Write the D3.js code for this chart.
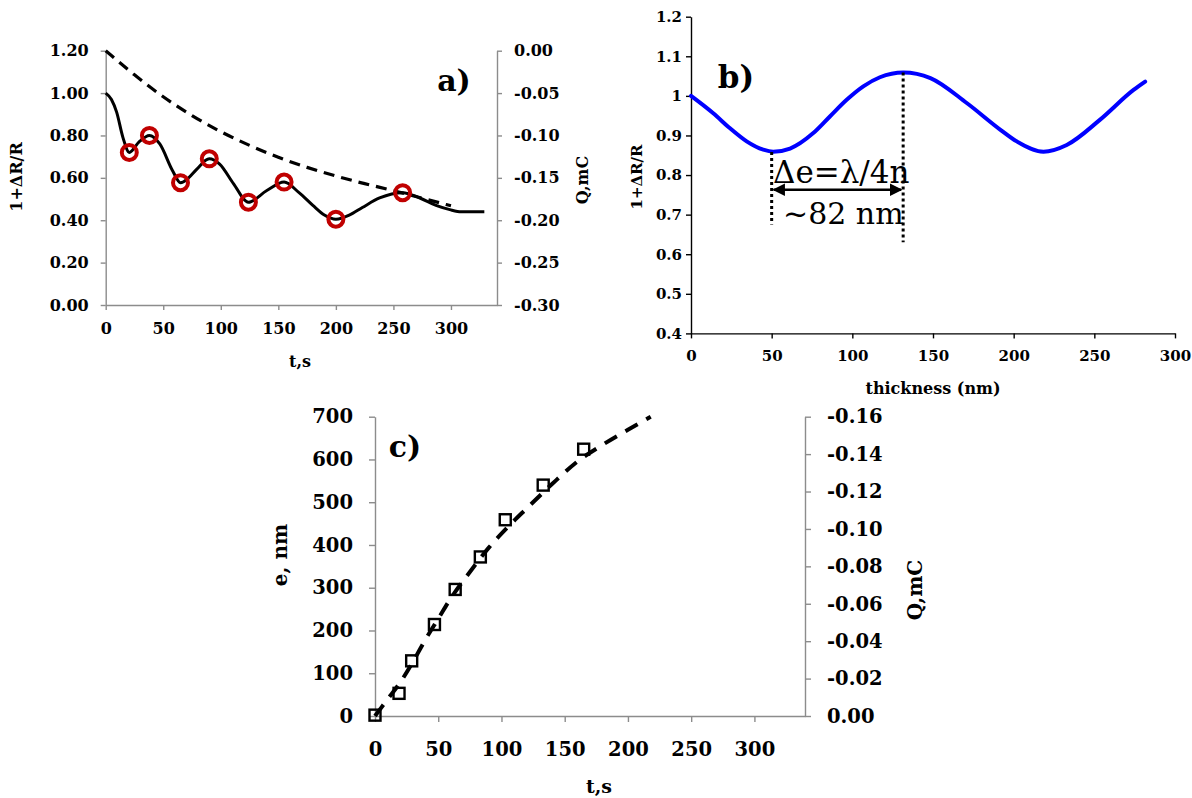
<!DOCTYPE html>
<html>
<head>
<meta charset="utf-8">
<script src="https://cdn.jsdelivr.net/npm/d3@7"></script>
<style>
  body { margin: 0; background: #fff; }
  text { font-family: "DejaVu Serif", serif; }
</style>
</head>
<body>
<script>
// panel a) : reflectance (left) and charge (right) vs time
var a_refl = [
  [0,1.00],[5,0.97],[9.5,0.91],[15,0.79],[20.5,0.72],[29,0.77],[38,0.80],[47,0.76],
  [58,0.635],[65,0.577],[72,0.60],[79,0.64],[90,0.69],[99,0.665],[111,0.573],[124,0.485],
  [140,0.54],[155,0.58],[168,0.53],[180,0.47],[190,0.425],[200,0.405],[212,0.425],[223,0.46],
  [238,0.505],[258,0.53],[273,0.505],[287,0.47],[299,0.45],[309,0.44],[320,0.44],[329,0.44]
];
var a_circles = [[20.5,0.72],[38,0.80],[65,0.577],[90,0.69],[124,0.485],[155,0.58],[200,0.405],[258,0.53]];
var a_charge = [
  [0,0],[25,-0.029],[50,-0.055],[75,-0.077],[100,-0.096],[125,-0.112],[150,-0.126],
  [175,-0.138],[200,-0.148],[225,-0.157],[250,-0.165],[275,-0.174],[300,-0.183]
];
var a_left_ticks = [0, 0.2, 0.4, 0.6, 0.8, 1.0, 1.2];
var a_right_ticks = [-0.30, -0.25, -0.20, -0.15, -0.10, -0.05, 0];
var t_ticks = [0, 50, 100, 150, 200, 250, 300];

// panel b) : simulated reflectance vs thickness
var b_curve = [
  [0,1.0],[13.8,0.956],[24.2,0.918],[34.5,0.885],[44.8,0.864],[51,0.859],[61.4,0.867],[75.8,0.906],
  [86.1,0.948],[96.5,0.99],[106.8,1.024],[117.1,1.047],[131.6,1.059],[148.4,1.045],[170.9,0.982],
  [191.6,0.915],[201.9,0.885],[218.5,0.859],[232.9,0.876],[253.6,0.94],[274.3,1.015],[281.5,1.036]
];
var b_y_ticks = [0.4, 0.5, 0.6, 0.7, 0.8, 0.9, 1.0, 1.1, 1.2];
var b_x_ticks = [0, 50, 100, 150, 200, 250, 300];
var b_min_x = 50, b_max_x = 131.5;

// panel c) : thickness (left) and charge (right) vs time
var c_thick = [[0,2],[19,53],[29,129],[47,214],[63.4,296],[83.3,372],[103,459],[133,540],[165,624]];
var c_charge = [
  [0,0],[10,-0.009],[20,-0.018],[30,-0.029],[40,-0.041],[50,-0.052],[60,-0.063],[75,-0.077],
  [90,-0.090],[105,-0.101],[120,-0.111],[140,-0.124],[160,-0.136],[180,-0.145],[200,-0.153],[218,-0.160]
];
var c_left_ticks = [0, 100, 200, 300, 400, 500, 600, 700];
var c_right_ticks = [0, -0.02, -0.04, -0.06, -0.08, -0.10, -0.12, -0.14, -0.16];

var svg = d3.select('body').append('svg')
    .attr('width', 1192)
    .attr('height', 798);

var gray = '#8c8c8c';

function styleAxis(g, color, size) {
  g.select('.domain').attr('stroke', color).attr('stroke-width', 1.4);
  g.selectAll('.tick line').attr('stroke', color).attr('stroke-width', 1.4);
  g.selectAll('.tick text')
      .attr('fill', '#000')
      .style('font-weight', 'bold')
      .style('font-size', size + 'px');
}

function label(x, y, txt, size, rotate, weight) {
  var t = svg.append('text')
      .attr('x', x).attr('y', y)
      .attr('text-anchor', 'middle')
      .style('font-size', size + 'px')
      .style('font-weight', weight || 'bold')
      .text(txt);
  if (rotate) t.attr('transform', 'rotate(-90,' + x + ',' + y + ')');
  return t;
}

// ---------- panel a ----------
var ax = d3.scaleLinear().domain([0, 340]).range([105.7, 497]);
var ayL = d3.scaleLinear().domain([0, 1.2]).range([305, 50.7]);
var ayR = d3.scaleLinear().domain([-0.30, 0]).range([305, 50.7]);

svg.append('g').attr('transform', 'translate(0,305)')
    .call(d3.axisBottom(ax).tickValues(t_ticks).tickSize(5).tickSizeOuter(0).tickPadding(13).tickFormat(d3.format('d')))
    .call(styleAxis, gray, 16);
svg.append('g').attr('transform', 'translate(105.7,0)')
    .call(d3.axisLeft(ayL).tickValues(a_left_ticks).tickSize(5).tickSizeOuter(0).tickPadding(12).tickFormat(function(d){ return d.toFixed(2); }))
    .call(styleAxis, gray, 16);
svg.append('g').attr('transform', 'translate(497,0)')
    .call(d3.axisRight(ayR).tickValues(a_right_ticks).tickSize(5).tickSizeOuter(0).tickPadding(12).tickFormat(function(d){ return d.toFixed(2); }))
    .call(styleAxis, gray, 16);

svg.append('path')
    .datum(a_charge)
    .attr('d', d3.line().curve(d3.curveBasis).x(function(d){ return ax(d[0]); }).y(function(d){ return ayR(d[1]); }))
    .attr('fill', 'none').attr('stroke', '#000').attr('stroke-width', 3.2)
    .attr('stroke-dasharray', '11,7');

svg.append('path')
    .datum(a_refl)
    .attr('d', d3.line().curve(d3.curveMonotoneX).x(function(d){ return ax(d[0]); }).y(function(d){ return ayL(d[1]); }))
    .attr('fill', 'none').attr('stroke', '#000').attr('stroke-width', 3);

svg.selectAll('.acirc').data(a_circles).enter().append('circle')
    .attr('cx', function(d){ return ax(d[0]); })
    .attr('cy', function(d){ return ayL(d[1]); })
    .attr('r', 7.5)
    .attr('fill', 'none')
    .attr('stroke', '#c00000')
    .attr('stroke-width', 4);

label(300, 367, 't,s', 16);
label(22, 177, '1+\u0394R/R', 16, true);
label(588, 180, 'Q,mC', 16, true);
label(454, 91, 'a)', 30);

// ---------- panel b ----------
var bx = d3.scaleLinear().domain([0, 300]).range([691, 1175]);
var by = d3.scaleLinear().domain([0.4, 1.2]).range([333.4, 16.7]);

svg.append('g').attr('transform', 'translate(0,333.4)')
    .call(d3.axisBottom(bx).tickValues(b_x_ticks).tickSize(5).tickSizeOuter(0).tickPadding(12).tickFormat(d3.format('d')))
    .call(styleAxis, '#000', 15);
svg.append('g').attr('transform', 'translate(691,0)')
    .call(d3.axisLeft(by).tickValues(b_y_ticks).tickSize(5).tickSizeOuter(0).tickPadding(4).tickFormat(function(d){ return String(+d.toFixed(1)); }))
    .call(styleAxis, '#000', 15);

svg.append('path')
    .datum(b_curve)
    .attr('d', d3.line().curve(d3.curveMonotoneX).x(function(d){ return bx(d[0]); }).y(function(d){ return by(d[1]); }))
    .attr('fill', 'none').attr('stroke', '#0000ff').attr('stroke-width', 4)
    .attr('stroke-linecap', 'round');

// dotted markers at min / max
svg.append('line')
    .attr('x1', bx(b_min_x)).attr('x2', bx(b_min_x))
    .attr('y1', by(0.858)).attr('y2', by(0.675))
    .attr('stroke', '#000').attr('stroke-width', 3).attr('stroke-dasharray', '3,3');
svg.append('line')
    .attr('x1', bx(b_max_x)).attr('x2', bx(b_max_x))
    .attr('y1', by(1.059)).attr('y2', by(0.63))
    .attr('stroke', '#000').attr('stroke-width', 3).attr('stroke-dasharray', '3,3');

var defs = svg.append('defs');
defs.append('marker').attr('id', 'arr').attr('viewBox', '0 0 10 10')
    .attr('refX', 9).attr('refY', 5).attr('markerWidth', 5).attr('markerHeight', 5)
    .attr('orient', 'auto-start-reverse')
  .append('path').attr('d', 'M0,0L10,5L0,10z').attr('fill', '#000');
svg.append('line')
    .attr('x1', bx(b_min_x) + 2).attr('x2', bx(b_max_x) - 2)
    .attr('y1', by(0.763)).attr('y2', by(0.763))
    .attr('stroke', '#000').attr('stroke-width', 2.5)
    .attr('marker-start', 'url(#arr)').attr('marker-end', 'url(#arr)');

svg.append('text').attr('x', 773).attr('y', 183)
    .style('font-size', '31px').text('\u0394e=\u03bb/4n');
svg.append('text').attr('x', 783).attr('y', 224)
    .style('font-size', '30px').text('~82 nm');

label(933, 394, 'thickness (nm)', 16);
label(642, 177, '1+\u0394R/R', 15, true);
label(736, 88, 'b)', 31);

// ---------- panel c ----------
var cx = d3.scaleLinear().domain([0, 340]).range([375, 805]);
var cyL = d3.scaleLinear().domain([0, 700]).range([716, 416.7]);
var cyR = d3.scaleLinear().domain([0, -0.16]).range([716, 416.7]);

svg.append('g').attr('transform', 'translate(0,716)')
    .call(d3.axisBottom(cx).tickValues(t_ticks).tickSize(6).tickSizeOuter(0).tickPadding(20).tickFormat(d3.format('d')))
    .call(styleAxis, gray, 19.5);
svg.append('g').attr('transform', 'translate(375,0)')
    .call(d3.axisLeft(cyL).tickValues(c_left_ticks).tickSize(6).tickSizeOuter(0).tickPadding(16).tickFormat(d3.format('d')))
    .call(styleAxis, gray, 19.5);
svg.append('g').attr('transform', 'translate(805,0)')
    .call(d3.axisRight(cyR).tickValues(c_right_ticks).tickSize(6).tickSizeOuter(0).tickPadding(16).tickFormat(function(d){ return d.toFixed(2); }))
    .call(styleAxis, gray, 19.5);

svg.append('path')
    .datum(c_charge)
    .attr('d', d3.line().curve(d3.curveMonotoneX).x(function(d){ return cx(d[0]); }).y(function(d){ return cyR(d[1]); }))
    .attr('fill', 'none').attr('stroke', '#000').attr('stroke-width', 4)
    .attr('stroke-dasharray', '14,10');

svg.selectAll('.csq').data(c_thick).enter().append('rect')
    .attr('x', function(d){ return cx(d[0]) - 5.5; })
    .attr('y', function(d){ return cyL(d[1]) - 5.5; })
    .attr('width', 11).attr('height', 11)
    .attr('fill', 'none')
    .attr('stroke', '#000')
    .attr('stroke-width', 2.4);

label(599, 793, 't,s', 19);
label(287, 555, 'e, nm', 20, true);
label(922, 590, 'Q,mC', 20, true);
label(405, 457, 'c)', 30);
</script>
</body>
</html>
